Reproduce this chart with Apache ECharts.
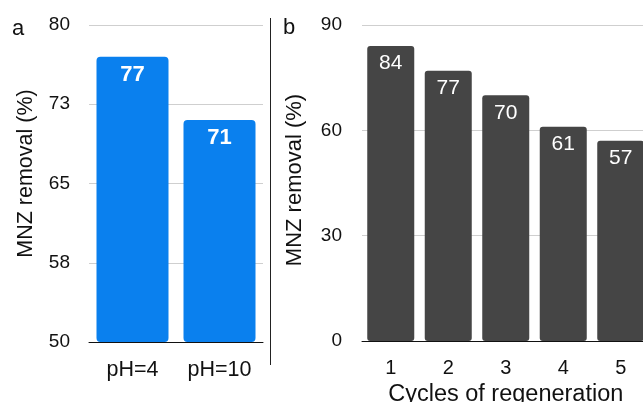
<!DOCTYPE html>
<html><head><meta charset="utf-8">
<script src="https://cdn.jsdelivr.net/npm/echarts@6/dist/echarts.min.js"></script>
<style>html,body{margin:0;padding:0;background:#fff}#c{width:643px;height:402px}</style>
</head><body><div id="c"></div>
<script>
const catsA = ['pH=4', 'pH=10'];
const valsA = [77, 71];
const yTicksA = ['50', '58', '65', '73', '80'];
const catsB = ['1', '2', '3', '4', '5'];
const valsB = [84, 77, 70, 61, 57];
const yTicksB = ['0', '30', '60', '90'];

const FONT = '"Liberation Sans", Arial, Helvetica, sans-serif';
const chart = echarts.init(document.getElementById('c'));
chart.setOption({
  animation: false,
  textStyle: { fontFamily: FONT },
  grid: [
    { left: 89, top: 25, width: 174, height: 317, outerBoundsMode: 'none', containLabel: false },
    { left: 362, top: 25, width: 287.5, height: 316, outerBoundsMode: 'none', containLabel: false }
  ],
  xAxis: [
    { type: 'category', gridIndex: 0, data: catsA,
      axisLine: { lineStyle: { color: '#111', width: 1 } }, axisTick: { show: false },
      axisLabel: { color: '#111', fontSize: 21.5, margin: 17, fontFamily: FONT } },
    { type: 'category', gridIndex: 1, data: catsB,
      axisLine: { lineStyle: { color: '#111', width: 1 } }, axisTick: { show: false },
      axisLabel: { color: '#111', fontSize: 20, margin: 17, fontFamily: FONT },
      name: 'Cycles of regeneration', nameLocation: 'middle', nameGap: 31,
      nameTextStyle: { color: '#111', fontSize: 23.5, fontFamily: FONT } }
  ],
  yAxis: [
    { type: 'value', gridIndex: 0, min: 50, max: 80, interval: 7.5,
      axisLine: { show: false }, axisTick: { show: false },
      splitLine: { lineStyle: { color: '#cfcfcf', width: 1 } },
      axisLabel: { color: '#111', fontSize: 19, margin: 19, fontFamily: FONT,
        formatter: (v, i) => yTicksA[i] },
      name: 'MNZ removal (%)', nameLocation: 'middle', nameGap: 52, nameRotate: 90,
      nameTextStyle: { color: '#111', fontSize: 21.5, fontFamily: FONT, padding: [0, 0, 0, 20] } },
    { type: 'value', gridIndex: 1, min: 0, max: 90, interval: 30,
      axisLine: { show: false }, axisTick: { show: false },
      splitLine: { lineStyle: { color: '#cfcfcf', width: 1 } },
      axisLabel: { color: '#111', fontSize: 19, margin: 20, fontFamily: FONT,
        formatter: (v, i) => yTicksB[i] },
      name: 'MNZ removal (%)', nameLocation: 'middle', nameGap: 56, nameRotate: 90,
      nameTextStyle: { color: '#111', fontSize: 22, fontFamily: FONT, padding: [0, 0, 0, 6] } }
  ],
  series: [
    { type: 'bar', xAxisIndex: 0, yAxisIndex: 0, data: valsA, barWidth: 72,
      itemStyle: { color: '#0a80ee', borderRadius: 4 },
      label: { show: true, position: 'insideTop', distance: 7, color: '#fff',
        fontSize: 22, fontWeight: 'bold', fontFamily: FONT } },
    { type: 'bar', xAxisIndex: 1, yAxisIndex: 1, data: valsB, barWidth: 47,
      itemStyle: { color: '#454545', borderRadius: 3 },
      label: { show: true, position: 'insideTop', distance: 7, color: '#fff',
        fontSize: 21, fontFamily: FONT } }
  ],
  graphic: [
    { type: 'text', left: 12, top: 18, style: { text: 'a', fill: '#111', font: '22px ' + FONT } },
    { type: 'text', left: 283, top: 17, style: { text: 'b', fill: '#111', font: '22px ' + FONT } },
    { type: 'line', shape: { x1: 270.5, y1: 18, x2: 270.5, y2: 365 }, style: { stroke: '#222', lineWidth: 1 } }
  ]
});
</script>
</body></html>
